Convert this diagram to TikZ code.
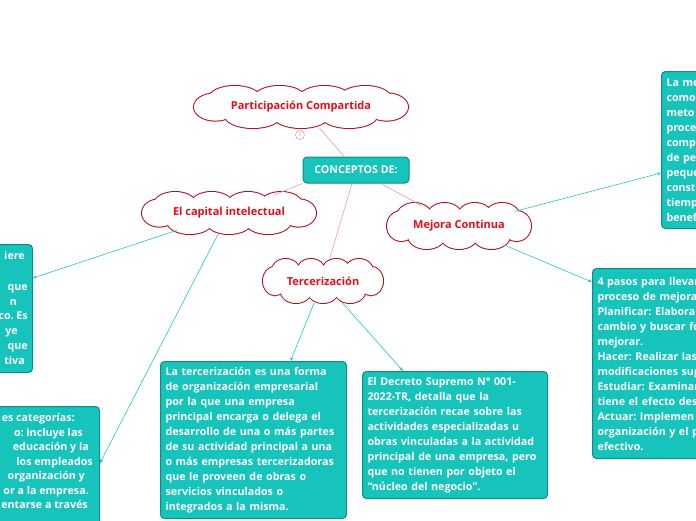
\documentclass[tikz,border=0pt]{standalone}
\usepackage{fontspec}
\setmainfont{Open Sans}
\usetikzlibrary{arrows.meta}
\usetikzlibrary{shapes.geometric}

\definecolor{boxfill}{RGB}{22,196,188}
\definecolor{boxline}{RGB}{14,140,134}
\definecolor{cloudline}{RGB}{180,14,24}
\definecolor{cloudtext}{RGB}{232,12,24}
\definecolor{pinkline}{RGB}{228,160,160}
\definecolor{tealline}{RGB}{40,196,190}

\frenchspacing
% puffs of a unit cloud: centre x/centre y/x radius/y radius
\newcommand\cloudbumps{0/0/0.8/0.6, -0.8/0/0.2/0.65, 0.8/0/0.2/0.65,
  -0.62/-0.42/0.24/0.58, -0.2/-0.42/0.24/0.58, 0.22/-0.42/0.24/0.58, 0.6/-0.42/0.24/0.58,
  -0.45/0.42/0.26/0.58, 0/0.42/0.26/0.58, 0.45/0.42/0.26/0.58}
% cloud outline: centre x, centre y, half width, half height
\newcommand\cloudshape[4]{%
  \begin{scope}[shift={(#1,#2)}, xscale=#3, yscale=#4]
    \foreach \cx/\cy/\rx/\ry in \cloudbumps
      \draw[cloudline, line width=2pt] (\cx,\cy) ellipse [x radius=\rx, y radius=\ry];
    \foreach \cx/\cy/\rx/\ry in \cloudbumps
      \fill[white] (\cx,\cy) ellipse [x radius=\rx, y radius=\ry];
  \end{scope}}

\tikzset{
  idea/.style={ellipse, text=cloudtext, font=\bfseries\fontsize{11}{13}\selectfont, inner sep=0pt},
  leaf/.style={rectangle, rounded corners=4pt, draw=boxline, line width=1pt,
    fill=boxfill, text=white, font=\bfseries\fontsize{10.7}{15}\selectfont,
    align=left, anchor=north west, inner xsep=5pt, inner ysep=5pt},
  piece/.style={text=white, font=\bfseries\fontsize{10.7}{15}\selectfont,
    inner sep=0pt, anchor=base east},
  link/.style={draw=pinkline, line width=0.6pt},
  tip/.style={draw=tealline, line width=0.6pt, -{Stealth[length=4pt,width=3pt]}}
}

\begin{document}
\begin{tikzpicture}[x=1pt,y=-1pt]
  \path[use as bounding box, clip] (0,0) rectangle (696,520);

  % central box and clouds
  \node[leaf, anchor=center, align=center, minimum width=106pt, minimum height=26pt,
    inner ysep=2pt] (concepts) at (356,170) {CONCEPTOS DE:};
  \cloudshape{301}{107}{107}{21}
  \node[idea, minimum width=214pt, minimum height=42pt] (parti) at (301,107) {Participación Compartida};
  \cloudshape{229}{213}{87}{21}
  \node[idea, minimum width=174pt, minimum height=42pt] (capital) at (229,213) {El capital intelectual};
  \cloudshape{459}{226}{72}{23}
  \node[idea, minimum width=144pt, minimum height=46pt] (mejora) at (459,226) {Mejora Continua};
  \cloudshape{323}{281}{60}{22}
  \node[idea, minimum width=120pt, minimum height=44pt] (terc) at (323,281) {Tercerización};
  \node[circle, draw=pinkline, text=pinkline, line width=0.6pt, inner sep=0pt, minimum size=9pt,
    font=\fontsize{5.5}{6}\selectfont] (count) at (300,135) {2};

  % left boxes, cut by the page edge
  \node[leaf, anchor=north east, minimum width=186pt, minimum height=128pt] (capital1) at (33,244) {};
  \foreach \xe/\yb/\txt in {25/259.5/iere, 28/290.5/que, 17/305.5/n, 28/319.5/{co. Es},
      18/334.5/ye, 28/349.5/que, 25/364.5/tiva}
    \node[piece] at (\xe,\yb) {\txt};
  \node[leaf, anchor=north east, minimum width=186pt, minimum height=140pt] (capital2) at (100,406) {};
  \foreach \xe/\yb/\txt in {75/421.5/{es categorías:}, 83/436.5/{o: incluye las},
      89/450.5/{educación y la}, 93/465.5/{los empleados}, 85/479.5/{organización y},
      89/494.5/{or a la empresa.}, 88/508.5/{entarse a través}}
    \node[piece] at (\xe,\yb) {\txt};

  % boxes under Tercerizacion
  \node[leaf, text width=176pt, minimum height=157pt] (terc1) at (160,361)
    {La tercerización es una forma\\de organización empresarial\\por la que una empresa\\
     principal encarga o delega el\\desarrollo de una o más partes\\de su actividad principal a una\\
     o más empresas tercerizadoras\\que le proveen de obras o\\servicios vinculados o\\
     integrados a la misma.};
  \node[leaf, text width=175pt, minimum height=127pt] (decreto) at (362,371)
    {El Decreto Supremo N° 001-\\2022-TR, detalla que la\\tercerización recae sobre las\\
     actividades especializadas u\\obras vinculadas a la actividad\\principal de una empresa, pero\\
     que no tienen por objeto el\\“núcleo del negocio”.};

  % boxes on the right, cut by the page edge
  \node[leaf, text width=176pt, minimum height=190pt] (pasos) at (592,268)
    {4 pasos para llevar\\proceso de mejora\\Planificar: Elabora\\cambio y buscar fo\\mejorar.\\
     Hacer: Realizar las\\modificaciones sug\\Estudiar: Examinar\\tiene el efecto des\\
     Actuar: Implemen\\organización y el p\\efectivo.};
  \node[leaf, text width=176pt, minimum height=157pt] (metodo) at (661,71)
    {La me\\como\\meto\\proce\\comp\\de pe\\peque\\const\\tiemp\\benef};

  % connectors
  \path[link] (concepts) edge (parti)
    (concepts.south west) edge (capital)
    (concepts) edge (terc)
    (concepts) edge (mejora);
  \path[tip] (capital) edge ([yshift=-34pt]capital1.north east)
    (capital) edge ([yshift=-57pt]capital2.north east)
    (terc) edge ([xshift=37pt]terc1.north)
    (terc) edge ([xshift=-52pt]decreto.north)
    (mejora) edge ([yshift=-14pt]pasos.north west)
    (mejora) edge ([yshift=-102pt]metodo.north west);
\end{tikzpicture}
\end{document}
